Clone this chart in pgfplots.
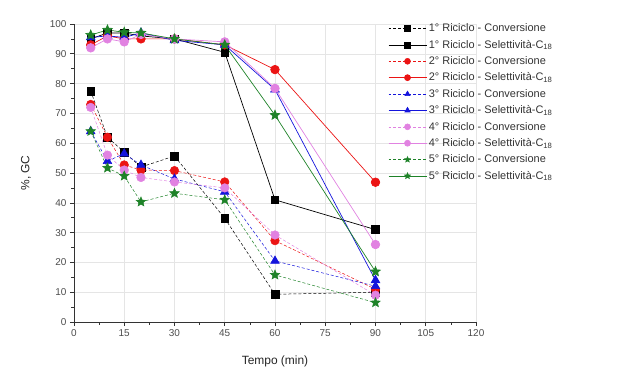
\documentclass[border=0pt]{standalone}
\usepackage{pgfplots}
\pgfplotsset{compat=1.18}
\usepackage{fontspec}
\setmainfont{Liberation Sans}
\usetikzlibrary{plotmarks}
\definecolor{c1}{RGB}{0,0,0}
\definecolor{c2}{RGB}{235,20,20}
\definecolor{c3}{RGB}{20,20,220}
\definecolor{c4}{RGB}{225,130,225}
\definecolor{c5}{RGB}{30,130,40}
\pgfdeclareplotmark{fstar}{%
  \pgfpathmoveto{\pgfqpointpolar{90}{\pgfplotmarksize}}%
  \pgfpathlineto{\pgfqpointpolar{126}{0.45\pgfplotmarksize}}%
  \pgfpathlineto{\pgfqpointpolar{162}{\pgfplotmarksize}}%
  \pgfpathlineto{\pgfqpointpolar{198}{0.45\pgfplotmarksize}}%
  \pgfpathlineto{\pgfqpointpolar{234}{\pgfplotmarksize}}%
  \pgfpathlineto{\pgfqpointpolar{270}{0.45\pgfplotmarksize}}%
  \pgfpathlineto{\pgfqpointpolar{306}{\pgfplotmarksize}}%
  \pgfpathlineto{\pgfqpointpolar{342}{0.45\pgfplotmarksize}}%
  \pgfpathlineto{\pgfqpointpolar{18}{\pgfplotmarksize}}%
  \pgfpathlineto{\pgfqpointpolar{54}{0.45\pgfplotmarksize}}%
  \pgfpathclose
  \pgfusepathqfillstroke}
\begin{document}
\begin{tikzpicture}[x=1bp,y=1bp]
\begin{axis}[
  scale only axis, width=402bp, height=298bp,
  xmin=0, xmax=120, ymin=0, ymax=100,
  axis x line*=bottom, axis y line*=left,
  axis line style={black!80, line width=0.8pt},
  xtick={0,15,...,120}, ytick={0,10,...,100},
  minor x tick num=1, minor y tick num=1,
  tick align=outside, tick style={black!80, line width=0.6pt},
  major tick length=4bp, minor tick length=2.5bp,
  grid=major, major grid style={black!10, line width=0.5pt},
  /pgf/number format/assume math mode=true,
  tick label style={font=\fontsize{10}{12}\selectfont, text=black!70},
  xlabel={Tempo (min)}, ylabel={\%, GC},
  label style={font=\fontsize{12}{14}\selectfont, text=black!85},
  xlabel style={yshift=-12bp},
  ylabel style={yshift=12bp},
  legend style={at={(rel axis cs:0.781,1.008)}, anchor=north west, draw=none, fill=none,
    font=\fontsize{11}{12}\selectfont, text=black!80, row sep=2.9bp, inner sep=0pt},
  legend cell align=left,
  legend image code/.code={\draw[#1] (0bp,0bp) -- (38bp,0bp); \draw[#1,solid,mark size=3bp] plot coordinates {(19bp,0bp)};},
  conv/.style={densely dashed, line width=0.5pt, mark options={solid}},
  sel/.style={solid, line width=0.7pt, mark options={solid}},
  clip=false,
]
\coordinate (bl) at (rel axis cs:-0.184,-0.1745);
\coordinate (tr) at (rel axis cs:1.398,1.0805);
% 1
\addplot[conv, c1, mark=square*, mark size=3.8bp] coordinates {(5,77.5)(10,62)(15,57)(20,52)(30,55.7)(45,34.8)(60,9.3)(90,10)};
\addlegendentry{1° Riciclo - Conversione}
\addplot[sel, c1, mark=square*, mark size=3.8bp] coordinates {(5,95)(10,97)(15,97)(20,96)(30,95)(45,90.5)(60,41)(90,31)};
\addlegendentry{1° Riciclo - Selettività-C\textsubscript{18}}
% 2
\addplot[conv, c2, mark=*, mark size=4.3bp] coordinates {(5,73)(10,62)(15,52.7)(20,51)(30,50.8)(45,47)(60,27.3)(90,11)};
\addlegendentry{2° Riciclo - Conversione}
\addplot[sel, c2, mark=*, mark size=4.3bp] coordinates {(5,93)(10,96)(15,95)(20,95)(30,95)(45,93)(60,84.7)(90,46.9)};
\addlegendentry{2° Riciclo - Selettività-C\textsubscript{18}}
% 3
\addplot[conv, c3, mark=triangle*, mark size=5bp] coordinates {(5,64)(10,54)(15,56.5)(20,52.7)(30,48)(45,43.7)(60,20.5)(90,12)};
\addlegendentry{3° Riciclo - Conversione}
\addplot[sel, c3, mark=triangle*, mark size=5bp] coordinates {(5,95.5)(10,96)(15,95.5)(20,97)(30,94.5)(45,93)(60,78)(90,14)};
\addlegendentry{3° Riciclo - Selettività-C\textsubscript{18}}
% 4
\addplot[conv, c4, mark=*, mark size=4.3bp] coordinates {(5,72)(10,56)(15,51)(20,48.5)(30,47)(45,45)(60,29.2)(90,9)};
\addlegendentry{4° Riciclo - Conversione}
\addplot[sel, c4, mark=*, mark size=4.3bp] coordinates {(5,92)(10,95)(15,94)(20,96.5)(30,95)(45,94)(60,78.4)(90,26)};
\addlegendentry{4° Riciclo - Selettività-C\textsubscript{18}}
% 5
\addplot[conv, c5, mark=fstar, mark size=5bp] coordinates {(5,64)(10,51.7)(15,49)(20,40.3)(30,43.2)(45,41)(60,15.8)(90,6.5)};
\addlegendentry{5° Riciclo - Conversione}
\addplot[sel, c5, mark=fstar, mark size=5bp] coordinates {(5,96.3)(10,98)(15,97.2)(20,97)(30,95)(45,93)(60,69.4)(90,16.9)};
\addlegendentry{5° Riciclo - Selettività-C\textsubscript{18}}
\end{axis}
\pgfresetboundingbox
\path[use as bounding box] (bl) rectangle (tr);
\end{tikzpicture}
\end{document}
